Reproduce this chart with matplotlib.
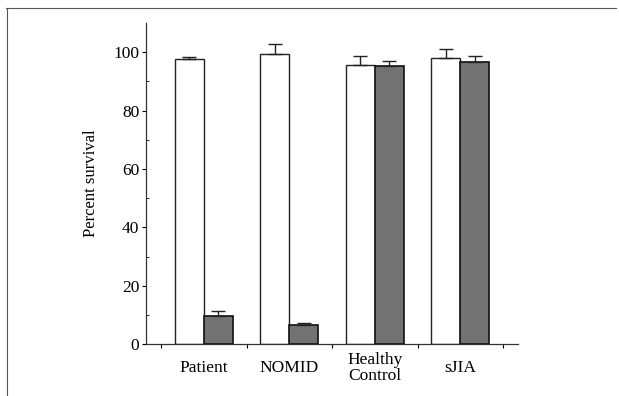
import numpy as np
import matplotlib
matplotlib.use("Agg")
import matplotlib.pyplot as plt
from matplotlib.lines import Line2D

# values
groups = ["Patient", "NOMID", "Healthy\nControl", "sJIA"]
open_vals = [97.7, 99.5, 95.6, 97.9]
open_err = [0.8, 3.3, 3.2, 3.3]
filled_vals = [9.7, 6.6, 95.2, 96.7]
filled_err = [1.6, 0.7, 1.8, 2.0]

plt.rcParams['font.family'] = ['Liberation Serif', 'DejaVu Serif']

fig = plt.figure(figsize=(6.19, 3.96), dpi=100)
ax = fig.add_axes([0.236, 0.131, 0.601, 0.811])

x = np.arange(len(groups))
w = 0.34
ax.bar(x - w/2, open_vals, w, color='white', edgecolor='#222222', linewidth=1.0,
       yerr=[np.zeros(len(groups)), open_err], capsize=5,
       error_kw=dict(elinewidth=1.0, capthick=1.0, ecolor='#222222'))
ax.bar(x + w/2, filled_vals, w, color='#727272', edgecolor='#111111', linewidth=1.2,
       yerr=[np.zeros(len(groups)), filled_err], capsize=5,
       error_kw=dict(elinewidth=1.0, capthick=1.0, ecolor='#222222'))

ax.set_xlim(-0.675, 3.676)
ax.set_ylim(0, 110)
ax.set_yticks([0, 20, 40, 60, 80, 100])
ax.set_yticks(np.arange(10, 110, 20), minor=True)
ax.tick_params(axis='y', which='major', direction='out', length=3, width=0.8,
               labelsize=12.5, pad=2)
ax.tick_params(axis='y', which='minor', direction='in', length=2, width=0.6)

# ticks between groups, labels under each group
ax.set_xticks(np.arange(-0.5, 4.0, 1.0))
ax.set_xticklabels([])
ax.set_xticks(x, minor=True)
ax.set_xticklabels(groups, minor=True, fontsize=12.5, linespacing=1.0)
ax.tick_params(axis='x', which='major', direction='out', length=3, width=0.8)
ax.tick_params(axis='x', which='minor', length=0, pad=17)
for lab in ax.get_xticklabels(minor=True):
    lab.set_verticalalignment('center')

ax.set_ylabel("Percent survival", fontsize=12, labelpad=10)

for s in ['top', 'right']:
    ax.spines[s].set_visible(False)
for s in ['left', 'bottom']:
    ax.spines[s].set_linewidth(0.9)
    ax.spines[s].set_color('#333333')

# outer frame of the scanned figure (top and left edges only)
fig.add_artist(Line2D([0.009, 0.995], [0.98, 0.98], color='#555555', linewidth=0.8))
fig.add_artist(Line2D([0.011, 0.011], [0.98, 0.0], color='#555555', linewidth=0.8))

fig.savefig("out.png", dpi=100)
